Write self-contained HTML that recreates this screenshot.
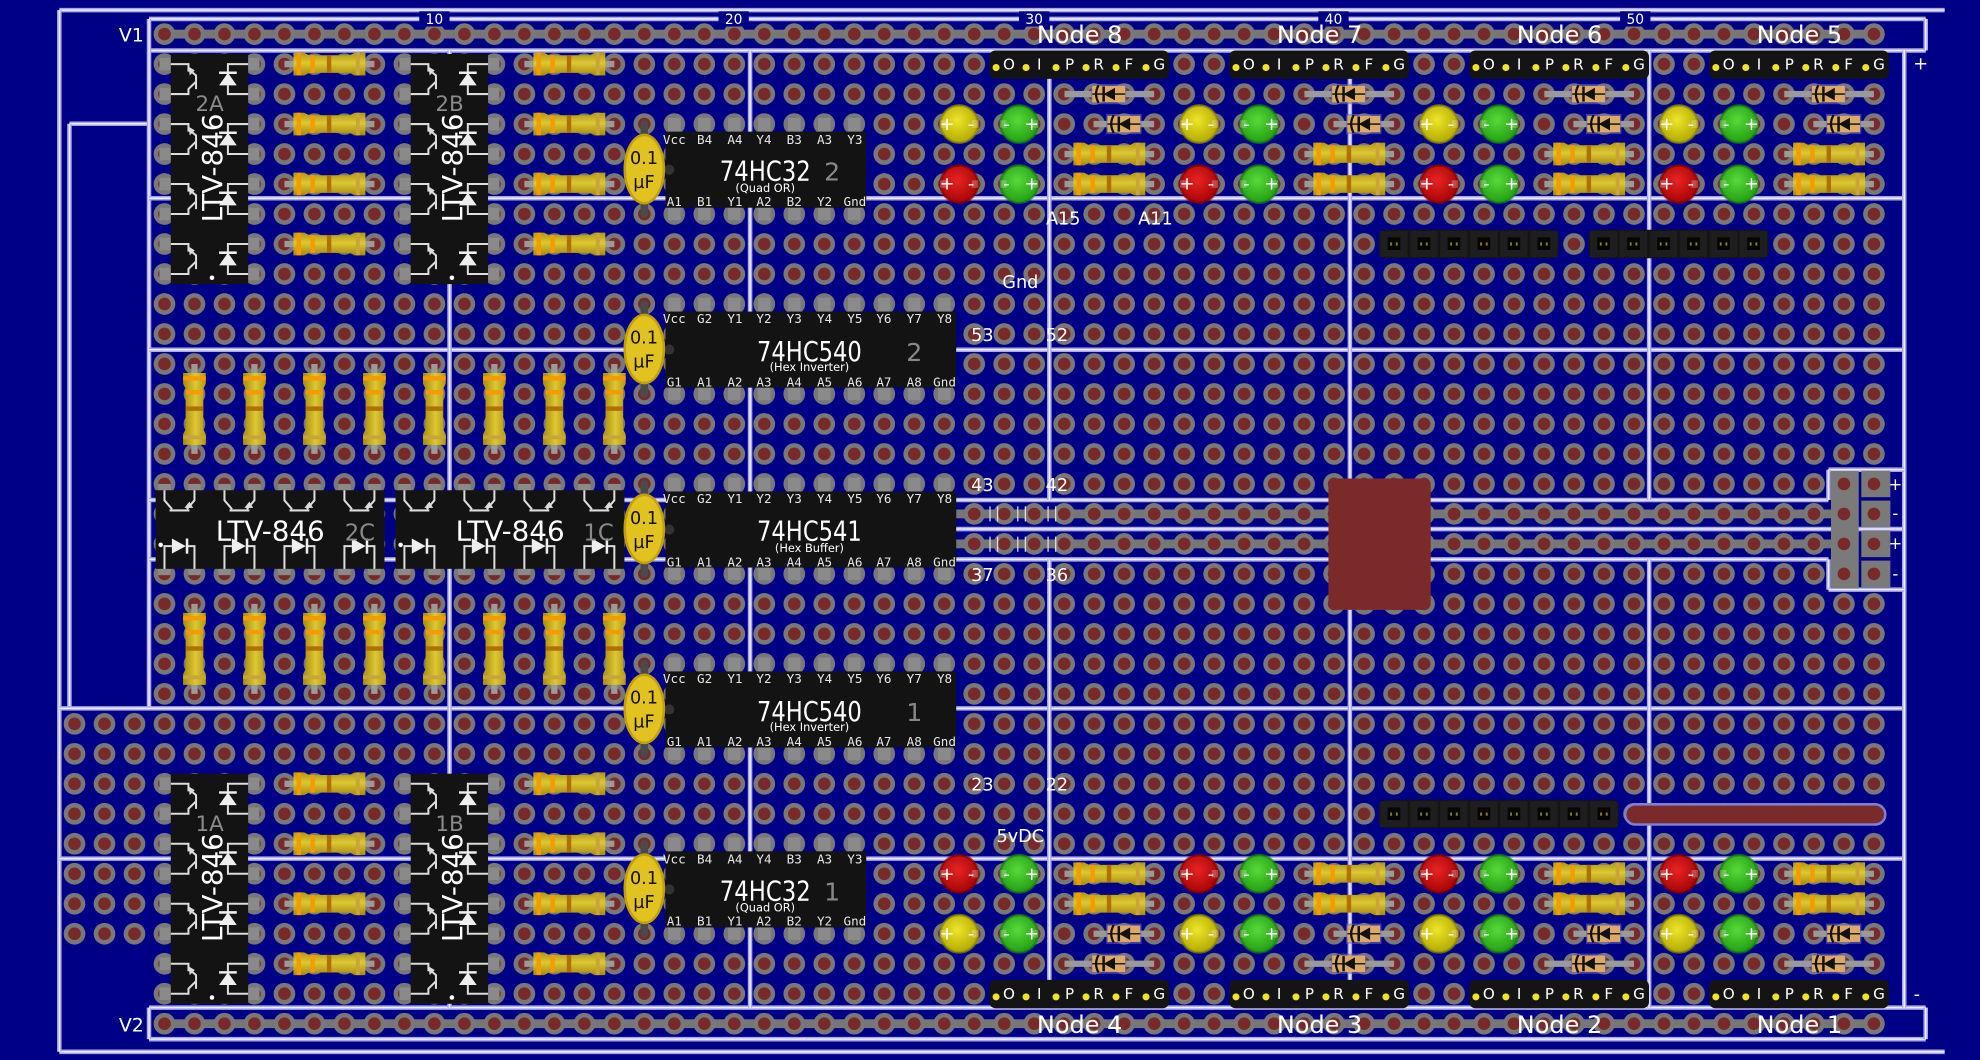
<!DOCTYPE html>
<html><head><meta charset="utf-8"><style>
html,body{margin:0;padding:0;background:#000087;overflow:hidden}
svg{display:block}
.t{font-family:"DejaVu Sans","Liberation Sans",sans-serif;fill:#fff}
.m{font-family:"DejaVu Sans Mono","Liberation Mono",monospace;fill:#e8e8e8}
.pm{font-family:"DejaVu Sans","Liberation Sans",sans-serif;fill:#fff;font-size:14px;text-anchor:middle}
.hl{font-family:"DejaVu Sans","Liberation Sans",sans-serif;fill:#fff;font-size:12px;text-anchor:middle}
.c{font-family:"DejaVu Sans","Liberation Sans",sans-serif;fill:#111;font-size:14px;text-anchor:middle}
</style></head><body>
<svg id="s" xmlns="http://www.w3.org/2000/svg" width="1980" height="1060" viewBox="0 0 1568 839.5" preserveAspectRatio="none">
<defs>
<linearGradient id="rg" x1="0" y1="0" x2="0" y2="1"><stop offset="0" stop-color="#b39612"/><stop offset="0.45" stop-color="#dcc834"/><stop offset="1" stop-color="#a88a0c"/></linearGradient>
<radialGradient id="ly" cx="0.45" cy="0.4" r="0.6"><stop offset="0" stop-color="#eee52a"/><stop offset="1" stop-color="#b3aa00"/></radialGradient>
<radialGradient id="lg" cx="0.45" cy="0.4" r="0.6"><stop offset="0" stop-color="#5ad83a"/><stop offset="1" stop-color="#22a012"/></radialGradient>
<radialGradient id="lr" cx="0.45" cy="0.4" r="0.6"><stop offset="0" stop-color="#e82424"/><stop offset="1" stop-color="#a80404"/></radialGradient>
</defs>
<rect width="1568" height="839.5" fill="#000087"/>
<g id="L"></g>

<!-- rail numbers -->
<g class="t" font-size="11" text-anchor="middle">
<rect x="332" y="9" width="24" height="12" fill="#000087"/><text x="344" y="19">10</text>
<rect x="569" y="9" width="24" height="12" fill="#000087"/><text x="581" y="19">20</text>
<rect x="807" y="9" width="24" height="12" fill="#000087"/><text x="819" y="19">30</text>
<rect x="1044" y="9" width="24" height="12" fill="#000087"/><text x="1056" y="19">40</text>
<rect x="1283" y="9" width="24" height="12" fill="#000087"/><text x="1295" y="19">50</text>
</g>
<g class="t" font-size="15" text-anchor="middle"><text x="104" y="33">V1</text><text x="104" y="817">V2</text></g>
<g class="t" font-size="19" text-anchor="middle">
<text x="855" y="34">Node 8</text><text x="1045" y="34">Node 7</text><text x="1235" y="34">Node 6</text><text x="1425" y="34">Node 5</text>
<text x="855" y="818">Node 4</text><text x="1045" y="818">Node 3</text><text x="1235" y="818">Node 2</text><text x="1425" y="818">Node 1</text>
</g>
<g class="t" font-size="14" text-anchor="middle">
<text x="842" y="178">A15</text><text x="915" y="178">A11</text><text x="808" y="228">Gnd</text>
<text x="778" y="270">53</text><text x="837" y="270">52</text>
<text x="778" y="389">43</text><text x="837" y="389">42</text>
<text x="778" y="460">37</text><text x="837" y="460">36</text>
<text x="778" y="626">23</text><text x="837" y="626">22</text>
<text x="808" y="667">5vDC</text>
<text x="1521" y="55">+</text><text x="1518" y="792">-</text>
</g>
<g class="t" font-size="13" text-anchor="middle"><text x="1501" y="388">+</text><text x="1501" y="411">-</text><text x="1501" y="435">+</text><text x="1501" y="459">-</text></g>

<!-- node headers & LED signs: top groups -->
<g id="topTxt">
<g transform="translate(0,0)"><text class="hl" x="799" y="55">O</text><text class="hl" x="823" y="55">I</text><text class="hl" x="847" y="55">P</text><text class="hl" x="870" y="55">R</text><text class="hl" x="894" y="55">F</text><text class="hl" x="918" y="55">G</text>
<text class="pm" x="750" y="103">+</text><text class="pm" x="769" y="103">-</text><text class="pm" x="797" y="103">-</text><text class="pm" x="817" y="103">+</text>
<text class="pm" x="750" y="150">+</text><text class="pm" x="769" y="150">-</text><text class="pm" x="797" y="150">-</text><text class="pm" x="817" y="150">+</text></g>
<g transform="translate(190,0)"><text class="hl" x="799" y="55">O</text><text class="hl" x="823" y="55">I</text><text class="hl" x="847" y="55">P</text><text class="hl" x="870" y="55">R</text><text class="hl" x="894" y="55">F</text><text class="hl" x="918" y="55">G</text>
<text class="pm" x="750" y="103">+</text><text class="pm" x="769" y="103">-</text><text class="pm" x="797" y="103">-</text><text class="pm" x="817" y="103">+</text>
<text class="pm" x="750" y="150">+</text><text class="pm" x="769" y="150">-</text><text class="pm" x="797" y="150">-</text><text class="pm" x="817" y="150">+</text></g>
<g transform="translate(380,0)"><text class="hl" x="799" y="55">O</text><text class="hl" x="823" y="55">I</text><text class="hl" x="847" y="55">P</text><text class="hl" x="870" y="55">R</text><text class="hl" x="894" y="55">F</text><text class="hl" x="918" y="55">G</text>
<text class="pm" x="750" y="103">+</text><text class="pm" x="769" y="103">-</text><text class="pm" x="797" y="103">-</text><text class="pm" x="817" y="103">+</text>
<text class="pm" x="750" y="150">+</text><text class="pm" x="769" y="150">-</text><text class="pm" x="797" y="150">-</text><text class="pm" x="817" y="150">+</text></g>
<g transform="translate(570,0)"><text class="hl" x="799" y="55">O</text><text class="hl" x="823" y="55">I</text><text class="hl" x="847" y="55">P</text><text class="hl" x="870" y="55">R</text><text class="hl" x="894" y="55">F</text><text class="hl" x="918" y="55">G</text>
<text class="pm" x="750" y="103">+</text><text class="pm" x="769" y="103">-</text><text class="pm" x="797" y="103">-</text><text class="pm" x="817" y="103">+</text>
<text class="pm" x="750" y="150">+</text><text class="pm" x="769" y="150">-</text><text class="pm" x="797" y="150">-</text><text class="pm" x="817" y="150">+</text></g>
</g>
<g id="botTxt">
<g transform="translate(0,0)"><text class="hl" x="799" y="791">O</text><text class="hl" x="823" y="791">I</text><text class="hl" x="847" y="791">P</text><text class="hl" x="870" y="791">R</text><text class="hl" x="894" y="791">F</text><text class="hl" x="918" y="791">G</text>
<text class="pm" x="750" y="697">+</text><text class="pm" x="769" y="697">-</text><text class="pm" x="797" y="697">-</text><text class="pm" x="817" y="697">+</text>
<text class="pm" x="750" y="744">+</text><text class="pm" x="769" y="744">-</text><text class="pm" x="797" y="744">-</text><text class="pm" x="817" y="744">+</text></g>
<g transform="translate(190,0)"><text class="hl" x="799" y="791">O</text><text class="hl" x="823" y="791">I</text><text class="hl" x="847" y="791">P</text><text class="hl" x="870" y="791">R</text><text class="hl" x="894" y="791">F</text><text class="hl" x="918" y="791">G</text>
<text class="pm" x="750" y="697">+</text><text class="pm" x="769" y="697">-</text><text class="pm" x="797" y="697">-</text><text class="pm" x="817" y="697">+</text>
<text class="pm" x="750" y="744">+</text><text class="pm" x="769" y="744">-</text><text class="pm" x="797" y="744">-</text><text class="pm" x="817" y="744">+</text></g>
<g transform="translate(380,0)"><text class="hl" x="799" y="791">O</text><text class="hl" x="823" y="791">I</text><text class="hl" x="847" y="791">P</text><text class="hl" x="870" y="791">R</text><text class="hl" x="894" y="791">F</text><text class="hl" x="918" y="791">G</text>
<text class="pm" x="750" y="697">+</text><text class="pm" x="769" y="697">-</text><text class="pm" x="797" y="697">-</text><text class="pm" x="817" y="697">+</text>
<text class="pm" x="750" y="744">+</text><text class="pm" x="769" y="744">-</text><text class="pm" x="797" y="744">-</text><text class="pm" x="817" y="744">+</text></g>
<g transform="translate(570,0)"><text class="hl" x="799" y="791">O</text><text class="hl" x="823" y="791">I</text><text class="hl" x="847" y="791">P</text><text class="hl" x="870" y="791">R</text><text class="hl" x="894" y="791">F</text><text class="hl" x="918" y="791">G</text>
<text class="pm" x="750" y="697">+</text><text class="pm" x="769" y="697">-</text><text class="pm" x="797" y="697">-</text><text class="pm" x="817" y="697">+</text>
<text class="pm" x="750" y="744">+</text><text class="pm" x="769" y="744">-</text><text class="pm" x="797" y="744">-</text><text class="pm" x="817" y="744">+</text></g>
</g>

<!-- capacitor labels -->
<text class="c" x="510" y="130">0.1</text><text class="c" x="510" y="149">µF</text>
<text class="c" x="510" y="272">0.1</text><text class="c" x="510" y="291">µF</text>
<text class="c" x="510" y="415">0.1</text><text class="c" x="510" y="434">µF</text>
<text class="c" x="510" y="557">0.1</text><text class="c" x="510" y="576">µF</text>
<text class="c" x="510" y="700">0.1</text><text class="c" x="510" y="719">µF</text>

<!-- LTV labels -->
<g class="t">
<text x="166" y="88" font-size="17" fill="#8a8a8a" style="fill:#8a8a8a" text-anchor="middle">2A</text>
<text x="356" y="88" font-size="17" style="fill:#8a8a8a" text-anchor="middle">2B</text>
<text x="166" y="658" font-size="17" style="fill:#8a8a8a" text-anchor="middle">1A</text>
<text x="356" y="658" font-size="17" style="fill:#8a8a8a" text-anchor="middle">1B</text>
<text font-size="22" text-anchor="middle" transform="translate(176,133) rotate(-90)">LTV-846</text>
<text font-size="22" text-anchor="middle" transform="translate(366,133) rotate(-90)">LTV-846</text>
<text font-size="22" text-anchor="middle" transform="translate(176,703) rotate(-90)">LTV-846</text>
<text font-size="22" text-anchor="middle" transform="translate(366,703) rotate(-90)">LTV-846</text>
<text x="214" y="428" font-size="22" text-anchor="middle">LTV-846</text>
<text x="285" y="428" font-size="18" style="fill:#8a8a8a" text-anchor="middle">2C</text>
<text x="404" y="428" font-size="22" text-anchor="middle">LTV-846</text>
<text x="474" y="428" font-size="18" style="fill:#8a8a8a" text-anchor="middle">1C</text>
</g>

<!-- IC labels -->
<g class="m" font-size="10" text-anchor="middle">
<g><text x="534" y="114">Vcc</text><text x="558" y="114">B4</text><text x="582" y="114">A4</text><text x="605" y="114">Y4</text><text x="629" y="114">B3</text><text x="653" y="114">A3</text><text x="677" y="114">Y3</text>
<text x="534" y="163">A1</text><text x="558" y="163">B1</text><text x="582" y="163">Y1</text><text x="605" y="163">A2</text><text x="629" y="163">B2</text><text x="653" y="163">Y2</text><text x="677" y="163">Gnd</text></g>
<g transform="translate(0,570)"><text x="534" y="114">Vcc</text><text x="558" y="114">B4</text><text x="582" y="114">A4</text><text x="605" y="114">Y4</text><text x="629" y="114">B3</text><text x="653" y="114">A3</text><text x="677" y="114">Y3</text>
<text x="534" y="163">A1</text><text x="558" y="163">B1</text><text x="582" y="163">Y1</text><text x="605" y="163">A2</text><text x="629" y="163">B2</text><text x="653" y="163">Y2</text><text x="677" y="163">Gnd</text></g>
<g><text x="534" y="256">Vcc</text><text x="558" y="256">G2</text><text x="582" y="256">Y1</text><text x="605" y="256">Y2</text><text x="629" y="256">Y3</text><text x="653" y="256">Y4</text><text x="677" y="256">Y5</text><text x="700" y="256">Y6</text><text x="724" y="256">Y7</text><text x="748" y="256">Y8</text>
<text x="534" y="306">G1</text><text x="558" y="306">A1</text><text x="582" y="306">A2</text><text x="605" y="306">A3</text><text x="629" y="306">A4</text><text x="653" y="306">A5</text><text x="677" y="306">A6</text><text x="700" y="306">A7</text><text x="724" y="306">A8</text><text x="748" y="306">Gnd</text></g>
<g transform="translate(0,142.5)"><text x="534" y="256">Vcc</text><text x="558" y="256">G2</text><text x="582" y="256">Y1</text><text x="605" y="256">Y2</text><text x="629" y="256">Y3</text><text x="653" y="256">Y4</text><text x="677" y="256">Y5</text><text x="700" y="256">Y6</text><text x="724" y="256">Y7</text><text x="748" y="256">Y8</text>
<text x="534" y="306">G1</text><text x="558" y="306">A1</text><text x="582" y="306">A2</text><text x="605" y="306">A3</text><text x="629" y="306">A4</text><text x="653" y="306">A5</text><text x="677" y="306">A6</text><text x="700" y="306">A7</text><text x="724" y="306">A8</text><text x="748" y="306">Gnd</text></g>
<g transform="translate(0,285)"><text x="534" y="256">Vcc</text><text x="558" y="256">G2</text><text x="582" y="256">Y1</text><text x="605" y="256">Y2</text><text x="629" y="256">Y3</text><text x="653" y="256">Y4</text><text x="677" y="256">Y5</text><text x="700" y="256">Y6</text><text x="724" y="256">Y7</text><text x="748" y="256">Y8</text>
<text x="534" y="306">G1</text><text x="558" y="306">A1</text><text x="582" y="306">A2</text><text x="605" y="306">A3</text><text x="629" y="306">A4</text><text x="653" y="306">A5</text><text x="677" y="306">A6</text><text x="700" y="306">A7</text><text x="724" y="306">A8</text><text x="748" y="306">Gnd</text></g>
</g>
<g class="t" text-anchor="middle">
<text x="606" y="143" font-size="22" textLength="72" lengthAdjust="spacingAndGlyphs">74HC32</text><text x="606" y="152" font-size="9">(Quad OR)</text><text x="659" y="143" font-size="20" style="fill:#888">2</text>
<text x="606" y="713" font-size="22" textLength="72" lengthAdjust="spacingAndGlyphs">74HC32</text><text x="606" y="722" font-size="9">(Quad OR)</text><text x="659" y="713" font-size="20" style="fill:#888">1</text>
<text x="641" y="286" font-size="22" textLength="83" lengthAdjust="spacingAndGlyphs">74HC540</text><text x="641" y="294" font-size="9">(Hex Inverter)</text><text x="724" y="286" font-size="20" style="fill:#888">2</text>
<text x="641" y="428" font-size="22" textLength="83" lengthAdjust="spacingAndGlyphs">74HC541</text><text x="641" y="437" font-size="9">(Hex Buffer)</text>
<text x="641" y="571" font-size="22" textLength="83" lengthAdjust="spacingAndGlyphs">74HC540</text><text x="641" y="579" font-size="9">(Hex Inverter)</text><text x="724" y="571" font-size="20" style="fill:#888">1</text>
</g>
</svg>
<script>
const X=c=>130.25+(c-1)*23.75, Y=r=>27+r*23.75;
let h='';
// strips
h+=`<rect x="${X(1)}" y="${Y(0)-3.5}" width="${X(58)-X(1)}" height="7" fill="#767676"/>`;
h+=`<rect x="${X(1)}" y="${Y(33)-3.5}" width="${X(58)-X(1)}" height="7" fill="#767676"/>`;
h+=`<rect x="756" y="${Y(16)-3.5}" width="700" height="7" fill="#767676"/>`;
h+=`<rect x="756" y="${Y(17)-3.5}" width="700" height="7" fill="#767676"/>`;
function hole(x,y){return `<circle cx="${x}" cy="${y}" r="8.6" fill="#787878"/><circle cx="${x}" cy="${y}" r="5" fill="#7a2929"/>`;}
for(let r=0;r<=33;r++)for(let c=1;c<=58;c++)h+=hole(X(c),Y(r));
for(let r=23;r<=30;r++)for(let c=-2;c<=0;c++)h+=hole(X(c),Y(r));
// white lines
function ln(x1,y1,x2,y2){return `<line x1="${x1}" y1="${y1}" x2="${x2}" y2="${y2}" stroke="#a8a8e8" stroke-width="3.6"/><line x1="${x1}" y1="${y1}" x2="${x2}" y2="${y2}" stroke="#eeeeff" stroke-width="1.2"/>`;}
const L=[[47,8,1540,8],[47,833,1540,833],[47,8,47,833],[118,15,1525,15],[118,40,1525,40],[118,15,118,40],[1525,15,1525,40],
[118,798,1525,798],[118,823,1525,823],[118,798,118,823],[1525,798,1525,823],
[55,98,118,98],[55,98,55,561],[118,40,118,561],
[118,157,1508,157],[118,277,1508,277],[118,396,1448,396],[756,419,1508,419],[118,443,1448,443],[47,561,1508,561],[47,680,1508,680],
[356,40,356,798],[594,40,594,798],[831,40,831,396],[831,443,831,798],[1069,40,1069,396],[1069,443,1069,798],[1306,40,1306,396],[1306,443,1306,798],[1508,40,1508,798],
[1448,372,1508,372],[1448,372,1448,396],[1448,443,1448,467],[1448,467,1508,467]];
L.forEach(a=>h+=ln(...a));
// tick marks
[784,790,806,812,830,836].forEach(x=>{h+=`<line x1="${x}" y1="401" x2="${x}" y2="413" stroke="#ddd" stroke-width="1"/><line x1="${x}" y1="425" x2="${x}" y2="437" stroke="#ddd" stroke-width="1"/>`;});
// resistor
function res(x1,x2,y,vert){let cx=(x1+x2)/2;let s='';
 if(!vert){s+=`<line x1="${x1}" y1="${y}" x2="${x2}" y2="${y}" stroke="#9a9a9a" stroke-width="5"/>`;s+=`<g transform="translate(${cx},${y})">`;}
 else{s+=`<line x1="${y}" y1="${x1}" x2="${y}" y2="${x2}" stroke="#9a9a9a" stroke-width="5"/>`;s+=`<g transform="translate(${y},${cx}) rotate(90)">`;}
 s+=`<path d="M-28.5,-9 H-20 L-16,-7 H16 L20,-9 H28.5 V9 H20 L16,7 H-16 L-20,9 H-28.5 Z" fill="url(#rg)"/>
 <rect x="-26" y="-9" width="3.5" height="18" fill="#f59a00"/><rect x="-15" y="-7" width="3.5" height="14" fill="#f59a00"/>
 <rect x="-2" y="-7" width="3.5" height="14" fill="#b07000"/><rect x="21" y="-9" width="3" height="18" fill="#c9a43c"/></g>`;return s;}
function diode(x1,x2,cx,y){return `<line x1="${x1}" y1="${y}" x2="${x2}" y2="${y}" stroke="#9a9a9a" stroke-width="5"/>
<rect x="${cx-14}" y="${y-8}" width="28" height="16" fill="#6a6ab0" opacity=".6"/><rect x="${cx-13}" y="${y-6.5}" width="26" height="13" fill="#dcaa66"/>
<line x1="${cx-13}" y1="${y}" x2="${cx+13}" y2="${y}" stroke="#222" stroke-width="1.2"/>
<polygon points="${cx+5},${y-5} ${cx+5},${y+5} ${cx-4},${y}" fill="#111"/><line x1="${cx-4}" y1="${y-6}" x2="${cx-4}" y2="${y+6}" stroke="#111" stroke-width="2"/>
<path d="M${cx-8},${y-7} Q${cx-12},${y} ${cx-8},${y+7}" stroke="#111" stroke-width="1.8" fill="none"/>`;}
function led(cx,cy,g){return `<circle cx="${cx}" cy="${cy}" r="14.8" fill="url(#${g})" stroke="${g=='ly'?'#8f8a00':g=='lg'?'#188010':'#880000'}" stroke-width="2" stroke-opacity=".7"/>
<rect x="${cx-15}" y="${cy-3}" width="5" height="6" fill="#fff" opacity=".25"/><rect x="${cx+10}" y="${cy-3}" width="5" height="6" fill="#fff" opacity=".25"/>`;}
function header(x,y,n,labels){let s=`<rect x="${x}" y="${y}" width="${n*23.75}" height="22.5" rx="5" fill="#141414"/>`;
 for(let i=0;i<n;i++){let cx=x+11.9+i*23.75;
  if(labels) s+=`<circle cx="${cx-6.5}" cy="${y+13.5}" r="2.8" fill="#f0e22a"/>`;
  else s+=`<rect x="${x+i*23.75+1}" y="${y+1}" width="21.75" height="20.5" fill="#1e1e1e"/><rect x="${cx-5}" y="${y+6}" width="10" height="10" fill="#050505"/><rect x="${cx-3}" y="${y+10}" width="1.5" height="2.5" fill="#8a8020"/><rect x="${cx+1.5}" y="${y+10}" width="1.5" height="2.5" fill="#8a8020"/>`;}
 return s;}
// node groups
for(const dx of [0,190,380,570]){
 h+=header(783.4+dx,40,6,true);
 h+=diode(843+dx,914+dx,878+dx,Y(2));h+=diode(866+dx,914+dx,890+dx,Y(3));
 h+=res(843+dx,914+dx,Y(4));h+=res(843+dx,914+dx,Y(5));
 h+=led(759.6+dx,Y(3),'ly');h+=led(807.1+dx,Y(3),'lg');h+=led(759.6+dx,Y(5),'lr');h+=led(807.1+dx,Y(5),'lg');
 h+=header(783.4+dx,776,6,true);
 h+=diode(843+dx,914+dx,878+dx,Y(31));h+=diode(866+dx,914+dx,890+dx,Y(30));
 h+=res(843+dx,914+dx,Y(28));h+=res(843+dx,914+dx,Y(29));
 h+=led(759.6+dx,Y(28),'lr');h+=led(807.1+dx,Y(28),'lg');h+=led(759.6+dx,Y(30),'ly');h+=led(807.1+dx,Y(30),'lg');
}
// pin headers
h+=header(1092,182,6,false);h+=header(1258,182,6,false);h+=header(1092,633.5,8,false);
h+=`<rect x="1287" y="637" width="206" height="16" rx="8" fill="#7a2a2a" stroke="#7f7fd0" stroke-width="2"/>`;
// red block
h+=`<rect x="1052" y="379" width="81" height="104" rx="5" fill="#7b2a2a"/>`;
// power connector
h+=`<rect x="1450" y="373" width="22" height="93" fill="#7a7a7a"/>`;
[15,16,17,18].forEach(r=>{h+=`<rect x="1474" y="${Y(r)-10.5}" width="23" height="21" fill="#7a7a7a"/><circle cx="${X(57)}" cy="${Y(r)}" r="5" fill="#7a2929"/><circle cx="${X(58)}" cy="${Y(r)}" r="5" fill="#7a2929"/>`;});
// LTV resistors
[1,3,5,7,25,27,29,31].forEach(r=>{h+=res(X(5),X(8),Y(r));h+=res(X(13),X(16),Y(r));});
[2,4,6,8,10,12,14,16].forEach(c=>{h+=res(Y(11),Y(14),X(c),true);h+=res(Y(19),Y(22),X(c),true);});
// vertical LTV chip
function vchip(a,r){let Lx=X(a)+5,R=X(a+3)-5,T=Y(r)-8,B=Y(r+7)+8;let s='';
 for(let i=0;i<8;i++){s+=`<rect x="${X(a)-4}" y="${Y(r+i)-5}" width="10" height="10" fill="#8a8a8a"/><rect x="${X(a+3)-6}" y="${Y(r+i)-5}" width="10" height="10" fill="#8a8a8a"/>`;}
 s+=`<rect x="${Lx}" y="${T}" width="${R-Lx}" height="${B-T}" fill="#131313"/>`;
 for(let k=0;k<4;k++){let y1=Y(r+2*k),y2=Y(r+2*k+1),ym=(y1+y2)/2;
  s+=`<path d="M${Lx},${y1} H${Lx+14} V${y1+6} M${Lx+14},${y1+4} L${Lx+20},${y1+9} V${ym+8} M${Lx+20},${ym+2} L${Lx+14},${y2-4} V${y2} H${Lx}" stroke="#ddd" stroke-width="1.6" fill="none"/><polygon points="${Lx+14},${y1+2} ${Lx+19},${y1+5} ${Lx+15},${y1+9}" fill="#ddd"/>`;
  let cx=R-16;
  s+=`<path d="M${R},${y1} H${cx} V${ym-5} M${cx},${ym+5} V${y2} H${R}" stroke="#ddd" stroke-width="1.6" fill="none"/><polygon points="${cx-7},${ym+5} ${cx+7},${ym+5} ${cx},${ym-5}" fill="#eee"/><line x1="${cx-7}" y1="${ym-5}" x2="${cx+7}" y2="${ym-5}" stroke="#eee" stroke-width="2"/>`;}
 s+=`<circle cx="${(Lx+R)/2+2}" cy="${B-5}" r="1.8" fill="#fff"/>`;return s;}
function hchip(a,r){let Lx=X(a)-7,R=X(a+7)+8,T=Y(r)+5,B=Y(r+3)-4;let s='';
 for(let i=0;i<8;i++){s+=`<rect x="${X(a+i)-5}" y="${T-5}" width="10" height="9" fill="#8a8a8a"/><rect x="${X(a+i)-5}" y="${B-4}" width="10" height="9" fill="#8a8a8a"/>`;}
 s+=`<rect x="${Lx}" y="${T}" width="${R-Lx}" height="${B-T}" fill="#131313"/>`;
 for(let k=0;k<4;k++){let c1=X(a+2*k),c2=X(a+2*k+1),m=(c1+c2)/2;
  s+=`<path d="M${c1},${T} V${T+8} L${c1+6},${T+15} M${c1+4},${T+16} H${c2-4} M${c2-6},${T+15} L${c2},${T+8} V${T}" stroke="#ddd" stroke-width="1.6" fill="none"/><polygon points="${c2-4},${T+9} ${c2-1},${T+14} ${c2-8},${T+14}" fill="#ddd"/>`;
  s+=`<path d="M${c1},${B} V${B-18} H${m-6} M${m+6},${B-18} H${c2} V${B}" stroke="#ddd" stroke-width="1.6" fill="none"/><polygon points="${m-6},${B-24} ${m-6},${B-12} ${m+5},${B-18}" fill="#eee"/><line x1="${m+6}" y1="${B-24}" x2="${m+6}" y2="${B-12}" stroke="#eee" stroke-width="2"/>`;}
 s+=`<circle cx="${Lx+4}" cy="${B-19}" r="1.8" fill="#fff"/>`;return s;}
h+=vchip(1,1)+vchip(9,1)+vchip(1,25)+vchip(9,25)+hchip(1,15)+hchip(9,15);
// ICs
function ic(c0,n,rt,rb){let Lx=X(c0)-7,R=X(c0+n-1)+9.5,T=Y(rt)+6,B=Y(rb)-5;let s='';
 for(let i=0;i<n;i++){s+=`<rect x="${X(c0+i)-5}" y="${Y(rt)-5}" width="10" height="12" fill="#8a8a8a"/><rect x="${X(c0+i)-5}" y="${B-2}" width="10" height="12" fill="#8a8a8a"/>`;}
 s+=`<rect x="${Lx}" y="${T}" width="${R-Lx}" height="${B-T}" fill="#131313"/><circle cx="${Lx+3}" cy="${(T+B)/2}" r="4" fill="#333"/>`;return s;}
h+=ic(18,7,3,6)+ic(18,10,9,12)+ic(18,10,15,18)+ic(18,10,21,24)+ic(18,7,27,30);
// caps
[[3,6],[9,12],[15,18],[21,24],[27,30]].forEach(([a,b])=>{let cy=(Y(a)+Y(b))/2;
 h+=`<line x1="510.25" y1="${Y(a)}" x2="510.25" y2="${Y(b)}" stroke="#4a4a4a" stroke-width="6" stroke-linecap="round"/><ellipse cx="510.25" cy="${cy}" rx="15.5" ry="27" fill="#e2c21e" stroke="#c49f0c" stroke-width="2"/>`;});
document.getElementById('L').innerHTML=h;
</script>
</body></html>
